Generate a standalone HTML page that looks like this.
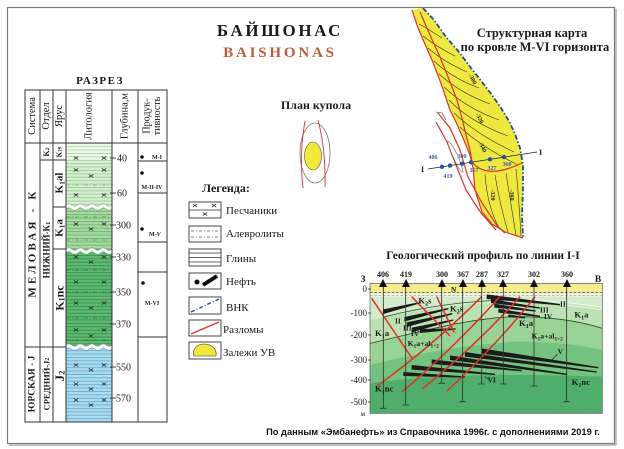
<!DOCTYPE html>
<html><head><meta charset="utf-8"><style>
html,body{margin:0;padding:0;background:#fff;}
svg{display:block;}
text{font-family:"Liberation Serif",serif;}
</style></head><body>
<svg width="624" height="449" viewBox="0 0 624 449" xmlns="http://www.w3.org/2000/svg">
<defs>
<pattern id="p1" patternUnits="userSpaceOnUse" width="10" height="3.4"><rect width="10" height="3.4" fill="#edf7ea"/><line x1="0" y1="0.4" x2="10" y2="0.4" stroke="#9ccf95" stroke-width="0.7"/></pattern>
<pattern id="p2" patternUnits="userSpaceOnUse" width="10" height="3.4"><rect width="10" height="3.4" fill="#d5edd0"/><line x1="0" y1="0.4" x2="10" y2="0.4" stroke="#8ec787" stroke-width="0.7"/></pattern>
<pattern id="p3" patternUnits="userSpaceOnUse" width="10" height="3.4"><rect width="10" height="3.4" fill="#a6d8a2"/><line x1="0" y1="0.4" x2="10" y2="0.4" stroke="#5fae5e" stroke-width="0.7"/></pattern>
<pattern id="p4" patternUnits="userSpaceOnUse" width="10" height="3.4"><rect width="10" height="3.4" fill="#5cb96f"/><line x1="0" y1="0.4" x2="10" y2="0.4" stroke="#2f8a47" stroke-width="0.7"/></pattern>
<pattern id="p5" patternUnits="userSpaceOnUse" width="10" height="3.4"><rect width="10" height="3.4" fill="#a9dbf0"/><line x1="0" y1="0.4" x2="10" y2="0.4" stroke="#5fa3c6" stroke-width="0.7"/></pattern>
<g id="xm"><path d="M-2.2,-1.6 L2.2,1.6 M2.2,-1.6 L-2.2,1.6" stroke="#2a2a2a" stroke-width="0.8" fill="none"/></g>
<clipPath id="pc"><rect x="15" y="10" width="697" height="390"/></clipPath>
</defs>

<rect x="0" y="0" width="624" height="449" fill="#fff"/>
<line x1="616" y1="9" x2="616" y2="445" stroke="#c4c4c4" stroke-width="2"/>
<line x1="9" y1="445" x2="616" y2="445" stroke="#c4c4c4" stroke-width="2"/>
<rect x="7.5" y="7.5" width="607" height="436" fill="#fff" stroke="#7a7a7a" stroke-width="1.2"/>

<text x="280" y="36" font-size="17" font-weight="bold" letter-spacing="2.6" text-anchor="middle" fill="#1a1a1a">БАЙШОНАС</text>
<text x="280" y="57" font-size="15" font-weight="bold" letter-spacing="2.8" text-anchor="middle" fill="#bf5a36">BAISHONAS</text>
<text x="100" y="84" font-size="11" font-weight="bold" letter-spacing="1.5" text-anchor="middle" fill="#1a1a1a">РАЗРЕЗ</text>
<text x="316" y="109" font-size="12" font-weight="bold" text-anchor="middle" fill="#1a1a1a">План купола</text>
<text x="226" y="192" font-size="12" font-weight="bold" text-anchor="middle" fill="#1a1a1a">Легенда:</text>
<text x="532" y="37" font-size="12.5" font-weight="bold" text-anchor="middle" fill="#1a1a1a">Структурная карта</text>
<text x="535" y="51" font-size="12.5" font-weight="bold" text-anchor="middle" fill="#1a1a1a">по кровле М-VI горизонта</text>
<text x="483" y="259" font-size="11.5" font-weight="bold" text-anchor="middle" fill="#1a1a1a">Геологический профиль по линии I-I</text>
<text x="433" y="435" font-size="9.3" font-weight="bold" text-anchor="middle" fill="#111" style="font-family:'Liberation Sans',sans-serif">По данным «Эмбанефть» из Справочника 1996г. с дополнениями 2019 г.</text>

<!-- LEFT TABLE -->
<rect x="66" y="143" width="46" height="17" fill="url(#p1)"/>
<rect x="66" y="160" width="46" height="47" fill="url(#p2)"/>
<rect x="66" y="207" width="46" height="42" fill="url(#p3)"/>
<rect x="66" y="249" width="46" height="97" fill="url(#p4)"/>
<rect x="66" y="346" width="46" height="76" fill="url(#p5)"/>
<g stroke-dasharray="4,2,1,2" stroke-width="0.8" fill="none">
<line x1="66" y1="185" x2="112" y2="185" stroke="#7fbf78"/>
<line x1="66" y1="217" x2="112" y2="217" stroke="#4f9d4f"/>
<line x1="66" y1="240" x2="112" y2="240" stroke="#4f9d4f"/>
<line x1="66" y1="270" x2="112" y2="270" stroke="#2b7a3f"/>
<line x1="66" y1="292" x2="112" y2="292" stroke="#2b7a3f"/>
<line x1="66" y1="318" x2="112" y2="318" stroke="#2b7a3f"/>
<line x1="66" y1="340" x2="112" y2="340" stroke="#2b7a3f"/>
</g>
<use href="#xm" x="76" y="158"/><use href="#xm" x="104" y="158"/>
<use href="#xm" x="76" y="170"/><use href="#xm" x="104" y="170"/><use href="#xm" x="91" y="176"/>
<use href="#xm" x="76" y="195"/><use href="#xm" x="104" y="195"/>
<use href="#xm" x="76" y="224"/><use href="#xm" x="104" y="224"/><use href="#xm" x="91" y="229"/>
<use href="#xm" x="76" y="257"/><use href="#xm" x="104" y="257"/><use href="#xm" x="91" y="262"/>
<use href="#xm" x="76" y="282"/><use href="#xm" x="104" y="282"/>
<use href="#xm" x="76" y="303"/><use href="#xm" x="104" y="303"/><use href="#xm" x="91" y="308"/>
<use href="#xm" x="76" y="330"/><use href="#xm" x="104" y="330"/><use href="#xm" x="91" y="336"/>
<use href="#xm" x="76" y="365"/><use href="#xm" x="104" y="365"/><use href="#xm" x="91" y="370"/>
<use href="#xm" x="76" y="384"/><use href="#xm" x="104" y="384"/><use href="#xm" x="91" y="389"/>
<use href="#xm" x="76" y="400"/><use href="#xm" x="104" y="400"/><use href="#xm" x="91" y="405"/>
<g fill="none">
<path d="M66,207 q2.875,-2.5 5.75,0 t5.75,0 t5.75,0 t5.75,0 t5.75,0 t5.75,0 t5.75,0 t5.75,0" stroke="#fff" stroke-width="3.2"/>
<path d="M66,205 q2.875,-2.5 5.75,0 t5.75,0 t5.75,0 t5.75,0 t5.75,0 t5.75,0 t5.75,0 t5.75,0" stroke="#8a8a8a" stroke-width="0.5"/>
<path d="M66,209.2 q2.875,-2.5 5.75,0 t5.75,0 t5.75,0 t5.75,0 t5.75,0 t5.75,0 t5.75,0 t5.75,0" stroke="#8a8a8a" stroke-width="0.5"/>
<path d="M66,251 q2.875,-2.5 5.75,0 t5.75,0 t5.75,0 t5.75,0 t5.75,0 t5.75,0 t5.75,0 t5.75,0" stroke="#fff" stroke-width="3.2"/>
<path d="M66,249 q2.875,-2.5 5.75,0 t5.75,0 t5.75,0 t5.75,0 t5.75,0 t5.75,0 t5.75,0 t5.75,0" stroke="#8a8a8a" stroke-width="0.5"/>
<path d="M66,253.2 q2.875,-2.5 5.75,0 t5.75,0 t5.75,0 t5.75,0 t5.75,0 t5.75,0 t5.75,0 t5.75,0" stroke="#8a8a8a" stroke-width="0.5"/>
<path d="M66,347 q2.875,-2.5 5.75,0 t5.75,0 t5.75,0 t5.75,0 t5.75,0 t5.75,0 t5.75,0 t5.75,0" stroke="#fff" stroke-width="3.2"/>
<path d="M66,345 q2.875,-2.5 5.75,0 t5.75,0 t5.75,0 t5.75,0 t5.75,0 t5.75,0 t5.75,0 t5.75,0" stroke="#8a8a8a" stroke-width="0.5"/>
<path d="M66,349.2 q2.875,-2.5 5.75,0 t5.75,0 t5.75,0 t5.75,0 t5.75,0 t5.75,0 t5.75,0 t5.75,0" stroke="#8a8a8a" stroke-width="0.5"/>
</g>
<g stroke="#333" stroke-width="1" fill="none">
<rect x="25" y="90" width="142" height="332"/>
<line x1="40" y1="90" x2="40" y2="422"/>
<line x1="53" y1="90" x2="53" y2="422"/>
<line x1="66" y1="90" x2="66" y2="422"/>
<line x1="112" y1="90" x2="112" y2="422"/>
<line x1="138" y1="90" x2="138" y2="422"/>
<line x1="25" y1="143" x2="167" y2="143"/>
<line x1="25" y1="347" x2="66" y2="347"/>
<line x1="40" y1="160" x2="66" y2="160"/>
<line x1="53" y1="207" x2="66" y2="207"/>
<line x1="53" y1="249" x2="66" y2="249"/>
<line x1="138" y1="161" x2="167" y2="161"/>
<line x1="138" y1="193" x2="167" y2="193"/>
<line x1="138" y1="242" x2="167" y2="242"/>
<line x1="138" y1="272" x2="167" y2="272"/>
<line x1="138" y1="337" x2="167" y2="337"/>
</g>
<g font-size="10.5" fill="#1a1a1a" text-anchor="middle" dominant-baseline="central">
<text transform="translate(32.5,116) rotate(-90)">Система</text>
<text transform="translate(46.5,116) rotate(-90)">Отдел</text>
<text transform="translate(59.5,116) rotate(-90)">Ярус</text>
<text transform="translate(89,116) rotate(-90)">Литология</text>
<text transform="translate(125,116) rotate(-90)">Глубина,м</text>
<text transform="translate(147,116) rotate(-90)" font-size="10">Продук-</text>
<text transform="translate(157.5,116) rotate(-90)" font-size="10">тивность</text>
</g>
<g font-weight="bold" fill="#1a1a1a" text-anchor="middle" dominant-baseline="central">
<text transform="translate(32.5,243) rotate(-90)" font-size="11" letter-spacing="3.2">МЕЛОВАЯ - К</text>
<text transform="translate(32.5,384) rotate(-90)" font-size="9.5">ЮРСКАЯ - J</text>
<text transform="translate(46.5,152) rotate(-90)" font-size="8">K<tspan font-size="5.5" dy="1.5">2</tspan></text>
<text transform="translate(46.5,250) rotate(-90)" font-size="9">НИЖНИЙ-К<tspan font-size="6.5" dy="1.5">1</tspan></text>
<text transform="translate(46.5,384) rotate(-90)" font-size="8.5">СРЕДНИЙ-J<tspan font-size="6" dy="1.5">2</tspan></text>
<text transform="translate(59.5,152) rotate(-90)" font-size="7">K<tspan font-size="5" dy="1">1</tspan><tspan dy="-1">s</tspan></text>
<text transform="translate(59.5,183) rotate(-90)" font-size="11">K<tspan font-size="7.5" dy="2">1</tspan><tspan dy="-2">al</tspan></text>
<text transform="translate(59.5,228) rotate(-90)" font-size="11">K<tspan font-size="7.5" dy="2">1</tspan><tspan dy="-2">a</tspan></text>
<text transform="translate(59.5,298) rotate(-90)" font-size="12">K<tspan font-size="8" dy="2">1</tspan><tspan dy="-2">nc</tspan></text>
<text transform="translate(59.5,376) rotate(-90)" font-size="13">J<tspan font-size="8.5" dy="2">2</tspan></text>
</g>
<g stroke="#333" stroke-width="0.9">
<line x1="110" y1="158" x2="116" y2="158"/><line x1="110" y1="193" x2="116" y2="193"/>
<line x1="110" y1="225" x2="116" y2="225"/><line x1="110" y1="257" x2="116" y2="257"/>
<line x1="110" y1="292" x2="116" y2="292"/><line x1="110" y1="324" x2="116" y2="324"/>
<line x1="110" y1="367" x2="116" y2="367"/><line x1="110" y1="398" x2="116" y2="398"/>
</g>
<g font-size="10" fill="#1a1a1a">
<text x="117" y="161.5">40</text><text x="117" y="196.5">60</text>
<text x="116" y="228.5">300</text><text x="116" y="260.5">330</text>
<text x="116" y="295.5">350</text><text x="116" y="327.5">370</text>
<text x="116" y="370.5">550</text><text x="116" y="401.5">570</text>
</g>
<g fill="#111">
<circle cx="142" cy="157" r="1.8"/><circle cx="142" cy="173" r="1.8"/>
<circle cx="142" cy="229" r="1.8"/><circle cx="143" cy="283" r="1.8"/>
</g>
<g font-size="6" font-weight="bold" fill="#222" text-anchor="middle">
<text x="157" y="159">M-I</text>
<text x="152" y="189">M-II-IV</text>
<text x="155" y="236">M-V</text>
<text x="152" y="305">M-VI</text>
</g>

<!-- DOME PLAN -->
<ellipse cx="315" cy="153" rx="15" ry="30" fill="none" stroke="#777" stroke-width="0.8"/>
<ellipse cx="313" cy="156" rx="8.5" ry="14" fill="#f0e83a" stroke="#555" stroke-width="0.6"/>
<path d="M305,121 Q299,155 303,188" fill="none" stroke="#d9342b" stroke-width="0.9"/>
<path d="M318,120 Q326,150 325,187" fill="none" stroke="#d9342b" stroke-width="0.9"/>

<!-- LEGEND -->
<g stroke="#333" stroke-width="0.9" fill="#fff">
<rect x="189" y="202" width="32" height="16"/>
<rect x="189" y="226" width="32" height="16"/>
<rect x="189" y="249" width="32" height="17"/>
<rect x="189" y="273" width="32" height="16"/>
<rect x="189" y="297" width="32" height="17"/>
<rect x="189" y="320" width="32" height="16"/>
<rect x="189" y="342" width="32" height="17"/>
</g>
<line x1="189" y1="210" x2="221" y2="210" stroke="#333" stroke-width="0.7"/>
<use href="#xm" x="195" y="205.5"/><use href="#xm" x="214" y="205.5"/><use href="#xm" x="205" y="214"/>
<g stroke="#555" stroke-width="0.8" stroke-dasharray="3,2,1,2"><line x1="191" y1="231" x2="219" y2="231"/><line x1="191" y1="237" x2="219" y2="237"/></g>
<g stroke="#333" stroke-width="0.7"><line x1="189" y1="253" x2="221" y2="253"/><line x1="189" y1="257.5" x2="221" y2="257.5"/><line x1="189" y1="262" x2="221" y2="262"/></g>
<circle cx="197" cy="282" r="2.5" fill="#111"/>
<line x1="203" y1="285" x2="217" y2="276" stroke="#111" stroke-width="4"/>
<line x1="191" y1="312" x2="219" y2="299" stroke="#1f4e9a" stroke-width="1.4" stroke-dasharray="4,2,1,2"/>
<line x1="191" y1="334" x2="219" y2="322" stroke="#d9342b" stroke-width="1.3"/>
<path d="M194,356 C192,350 196,344 204,344 C212,344 217,349 216,356 Z" fill="#f0e83a" stroke="#333" stroke-width="0.6"/>
<g font-size="11" fill="#1a1a1a">
<text x="226" y="214">Песчаники</text>
<text x="226" y="237">Алевролиты</text>
<text x="226" y="262">Глины</text>
<text x="226" y="285">Нефть</text>
<text x="226" y="311">ВНК</text>
<text x="223" y="333">Разломы</text>
<text x="223" y="356">Залежи УВ</text>
</g>

<!-- STRUCTURE MAP -->
<path d="M412,10 L417,25 L424,42 L432,60 L439,78 L445,95 L450,110 L456,122 L463,138 L470,155 L473,168 L475,190 L482,212 L492,224 L505,232 L523,238 L522,215 L523,190 L523,165 L520,148 L515,134 L509,121 L501,108 L492,95 L482,82 L471,68 L459,52 L446,37 L434,20 L423,8 Z" fill="#efe93f"/>
<g fill="none" stroke="#333" stroke-width="0.6">
<path d="M419,24 Q430,30 442,38"/>
<path d="M423,36 Q437,47 455,56"/>
<path d="M428,48 Q444,62 467,72"/>
<path d="M434,61 Q452,78 479,88"/>
<path d="M439,74 Q460,93 490,104"/>
<path d="M444,87 Q466,108 499,120"/>
<path d="M449,100 Q470,122 508,136"/>
<path d="M454,113 Q476,134 514,152"/>
<path d="M460,127 Q480,146 518,165"/>
<path d="M485,174 Q487,205 499,228"/>
<path d="M495,175 Q500,205 508,232"/>
<path d="M506,173 Q511,205 516,235"/>
<path d="M516,169 Q519,200 521,236"/>
</g>
<g fill="none" stroke="#d9342b" stroke-width="1.2">
<path d="M412,10 L417,25 L424,42 L432,60 L439,78 L445,95 L450,110 L456,122 L463,138 L470,155 L473,168 L475,190 L482,212 L492,224 L505,232 L523,238"/>
<path d="M420,12 L430,35 L440,57 L450,82 L457,100 L462,118 L466,135 L470,150 L472,162"/>
<path d="M472,162 C480,172 495,176 522,163"/>
<path d="M438,113 L450,128 L460,150 L468,177 L482,203 L498,227 L505,233"/>
<path d="M436,122 L447,142 L456,165 L466,190 L481,213 L496,230"/>
</g>
<path d="M436,112 L442,113 L446,120" fill="none" stroke="#333" stroke-width="0.6"/>
<path d="M447,141 C452,142 461,160 463,172 C460,173 454,160 447,141 Z" fill="#fff" stroke="#777" stroke-width="0.7"/>
<polyline points="423,8 434,20 446,37 459,52 471,68 482,82 492,95 501,108 509,121 515,134 520,148 523,165 523,190 522,215 523,238" fill="none" stroke="#1f4e9a" stroke-width="1.8" stroke-dasharray="5,2,1.5,2"/>
<g font-size="6" font-weight="bold" fill="#222" text-anchor="middle">
<text transform="translate(471,80) rotate(62)">-300</text>
<text transform="translate(478,119) rotate(62)">-320</text>
<text transform="translate(481,148) rotate(62)">-340</text>
<text transform="translate(491,195) rotate(90)">-320</text>
<text transform="translate(510,195) rotate(90)">-360</text>
</g>
<line x1="428" y1="169" x2="537" y2="152" stroke="#222" stroke-width="0.8"/>
<text x="421" y="172" font-size="8" font-weight="bold" fill="#222">I</text>
<text x="539" y="155" font-size="8" font-weight="bold" fill="#222">I</text>
<g fill="#2255a0">
<circle cx="442" cy="166.8" r="2.2"/><circle cx="450" cy="165.6" r="2.2"/>
<circle cx="462" cy="163.7" r="2.2"/><circle cx="471" cy="162.3" r="2.2"/>
<circle cx="490" cy="159.3" r="2.2"/><circle cx="504" cy="157.1" r="2.2"/>
</g>
<g font-size="6" font-weight="bold" fill="#3a5ca8" text-anchor="middle">
<text x="433" y="159">406</text><text x="448" y="178">419</text>
<text x="462" y="158">300</text><text x="474" y="172">367</text>
<text x="492" y="170">327</text><text x="507" y="166">360</text>
</g>

<!-- PROFILE -->
<g font-size="9.5" font-weight="bold" fill="#1a1a1a" text-anchor="middle">
<text x="363" y="282">З</text><text x="598" y="282">В</text>
</g>
<g font-size="8" font-weight="bold" fill="#1a1a1a" text-anchor="middle">
<text x="383" y="277">406</text><text x="406" y="277">419</text>
<text x="442" y="277">300</text><text x="463" y="277">367</text>
<text x="482" y="277">287</text><text x="503" y="277">327</text>
<text x="534" y="277">302</text><text x="567" y="277">360</text>
</g>
<g transform="translate(365,280) scale(0.33333)">
<g clip-path="url(#pc)">
<rect x="15" y="10" width="697" height="390" fill="#d3ebcb"/>
<path d="M15,120 C150,90 300,70 450,65 C560,62 650,75 712,85 V400 H15 Z" fill="#bce2b4"/>
<path d="M15,190 C150,160 300,115 450,110 C560,110 650,125 712,145 V400 H15 Z" fill="#98d294"/>
<path d="M15,255 C150,220 300,195 450,185 C560,185 650,195 712,210 V400 H15 Z" fill="#74c27f"/>
<path d="M15,310 C200,285 400,280 712,290 V400 H15 Z" fill="#4fae69"/>
<rect x="15" y="10" width="697" height="30" fill="#f4ea8e"/>
<rect x="15" y="40" width="697" height="10" fill="#eef6e8"/>
<line x1="15" y1="38" x2="712" y2="38" stroke="#333" stroke-width="2" stroke-dasharray="8,5"/>
<line x1="15" y1="46" x2="712" y2="46" stroke="#999" stroke-width="2" stroke-dasharray="8,5"/>
<g fill="none" stroke="#2d4d2d" stroke-width="2.5">
<path d="M15,190 C150,160 300,115 450,110 C560,110 650,125 712,145"/>
<path d="M60,110 C200,75 330,62 430,60"/>
</g>
<g fill="none" stroke="#f4f8f0" stroke-width="2.5">
<path d="M430,56 C540,60 640,70 712,82"/>
<path d="M430,64 C540,68 640,78 712,90"/>
</g>
<g fill="#1b1b1b">
<polygon points="55,88 165,66 165,70 55,102"/>
<polygon points="118,111 250,84 250,88 118,125"/>
<polygon points="125,127 262,99 262,103 125,141"/>
<polygon points="140,143 265,118 265,122 140,157"/>
<polygon points="165,147 272,145 272,149 165,159"/>
<polygon points="365,43 585,72 585,76 365,57"/>
<polygon points="378,57 525,82 525,86 378,69"/>
<polygon points="388,71 512,91 512,95 388,83"/>
<polygon points="400,86 525,107 525,111 400,98"/>
<polygon points="430,103 480,111 480,115 430,111"/>
<polygon points="350,205 700,261 700,265 350,221"/>
<polygon points="300,216 695,274 695,278 300,230"/>
<polygon points="255,226 605,281 605,285 255,240"/>
<polygon points="200,238 470,270 470,274 200,252"/>
<polygon points="140,255 390,281 390,285 140,269"/>
<polygon points="115,276 300,289 300,293 115,288"/>
</g>
<g fill="none" stroke="#e0302a" stroke-width="4.5">
<path d="M20,55 L142,236"/>
<path d="M140,50 L255,168"/>
<path d="M215,50 L268,158"/>
<path d="M36,318 Q200,200 350,50"/>
<path d="M111,336 Q260,210 405,50"/>
<path d="M171,327 Q330,200 465,50"/>
<path d="M246,333 Q400,190 510,50"/>
</g>
<g stroke="#333" stroke-width="2.5">
<line x1="55" y1="0" x2="55" y2="385"/><line x1="45" y1="385" x2="65" y2="385"/>
<line x1="122" y1="0" x2="122" y2="375"/><line x1="112" y1="375" x2="132" y2="375"/>
<line x1="230" y1="0" x2="230" y2="310"/><line x1="220" y1="310" x2="240" y2="310"/>
<line x1="293" y1="0" x2="293" y2="365"/><line x1="283" y1="365" x2="303" y2="365"/>
<line x1="350" y1="0" x2="350" y2="312"/><line x1="340" y1="312" x2="360" y2="312"/>
<line x1="415" y1="0" x2="415" y2="312"/><line x1="405" y1="312" x2="425" y2="312"/>
<line x1="507" y1="0" x2="507" y2="318"/><line x1="497" y1="318" x2="517" y2="318"/>
<line x1="605" y1="0" x2="605" y2="365"/><line x1="595" y1="365" x2="615" y2="365"/>
</g>
<line x1="560" y1="240" x2="578" y2="222" stroke="#222" stroke-width="2"/>
<line x1="358" y1="290" x2="372" y2="298" stroke="#222" stroke-width="2"/>
<g font-size="26" font-weight="bold" fill="#1a1a1a">
<text x="258" y="36" font-size="22">N</text>
<text x="160" y="70">K<tspan font-size="18" dy="6">2</tspan><tspan dy="-6">s</tspan></text>
<text x="255" y="95">K<tspan font-size="18" dy="6">2</tspan><tspan dy="-6">s</tspan></text>
<text x="90" y="130" font-size="22">II</text>
<text x="114" y="152" font-size="22">III</text>
<text x="138" y="168" font-size="22">IV</text>
<text x="585" y="80" font-size="22">II</text>
<text x="525" y="97" font-size="22">III</text>
<text x="537" y="117" font-size="22">IV</text>
<text x="578" y="222" font-size="22">V</text>
<text x="368" y="308" font-size="22">VI</text>
<text x="30" y="168">K<tspan font-size="18" dy="6">1</tspan><tspan dy="-6">a</tspan></text>
<text x="128" y="198" font-size="23">K<tspan font-size="16" dy="5">1</tspan><tspan dy="-5">a+al</tspan><tspan font-size="16" dy="5">1+2</tspan></text>
<text x="628" y="112">K<tspan font-size="18" dy="6">1</tspan><tspan dy="-6">a</tspan></text>
<text x="462" y="138">K<tspan font-size="18" dy="6">1</tspan><tspan dy="-6">a</tspan></text>
<text x="500" y="176" font-size="23">K<tspan font-size="16" dy="5">1</tspan><tspan dy="-5">a+al</tspan><tspan font-size="16" dy="5">1+2</tspan></text>
<text x="30" y="335">K<tspan font-size="18" dy="6">1</tspan><tspan dy="-6">nc</tspan></text>
<text x="620" y="315">K<tspan font-size="18" dy="6">1</tspan><tspan dy="-6">nc</tspan></text>
</g>
</g>
<rect x="15" y="10" width="697" height="390" fill="none" stroke="#555" stroke-width="2"/>
</g>
<g fill="#111">
<polygon points="379,287 387,287 383,279"/><polygon points="402,287 410,287 406,279"/>
<polygon points="438,287 446,287 442,279"/><polygon points="459,287 467,287 463,279"/>
<polygon points="478,287 486,287 482,279"/><polygon points="499,287 507,287 503,279"/>
<polygon points="530,287 538,287 534,279"/><polygon points="563,287 571,287 567,279"/>
</g>
<g stroke="#333" stroke-width="0.8">
<line x1="368" y1="289" x2="371" y2="289"/><line x1="368" y1="313" x2="371" y2="313"/>
<line x1="368" y1="335" x2="371" y2="335"/><line x1="368" y1="360" x2="371" y2="360"/>
<line x1="368" y1="380" x2="371" y2="380"/><line x1="368" y1="402" x2="371" y2="402"/>
</g>
<g font-size="9" fill="#1a1a1a" text-anchor="end">
<text x="367" y="292">0</text><text x="367" y="316">-100</text>
<text x="367" y="338">-200</text><text x="367" y="363">-300</text>
<text x="367" y="383">-400</text><text x="367" y="405">-500</text>
<text x="365" y="416" font-size="7">м</text>
</g>
</svg>
</body></html>
